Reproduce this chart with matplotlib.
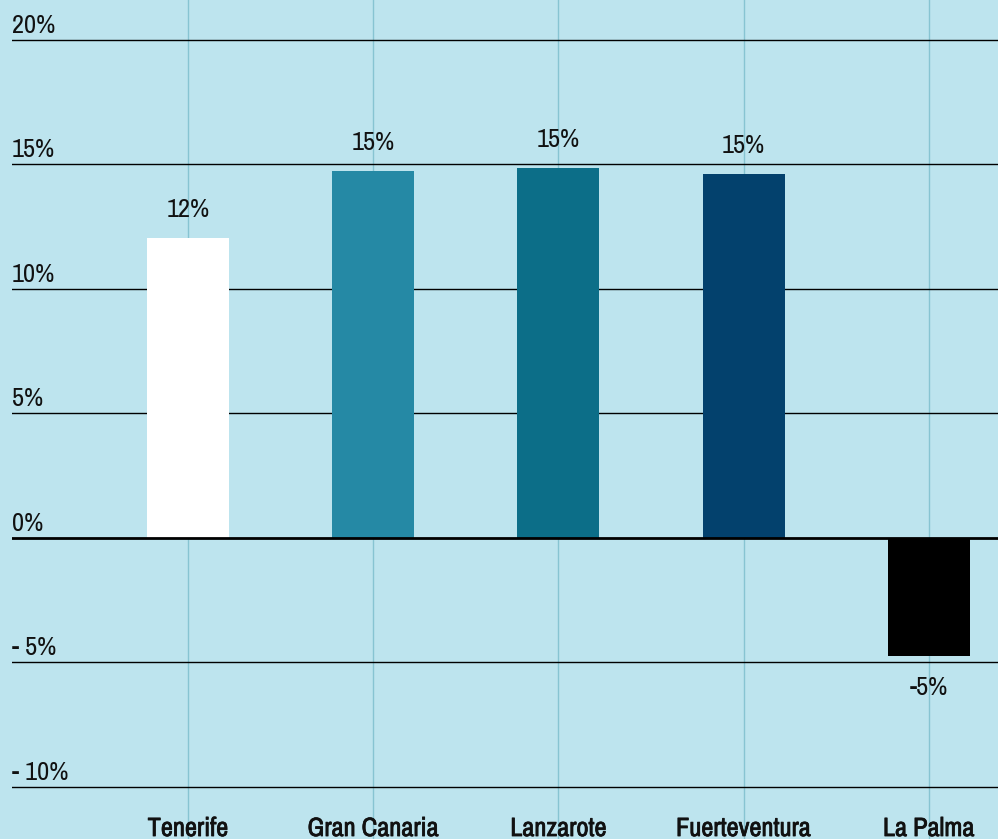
"""Bar chart: change by island, on a light blue panel."""

import matplotlib

matplotlib.use("Agg")

import matplotlib.pyplot as plt
from matplotlib import font_manager, patheffects
from matplotlib.transforms import blended_transform_factory

ISLANDS = ["Tenerife", "Gran Canaria", "Lanzarote", "Fuerteventura", "La Palma"]
CHANGE = [12.05, 14.75, 14.85, 14.6, -4.75]
BAR_LABELS = ["12%", "15%", "15%", "15%", "-5%"]
BAR_COLORS = ["#ffffff", "#2589a5", "#0c6e88", "#03416d", "#000000"]
Y_TICKS = [20, 15, 10, 5, 0, -5, -10]
Y_TICK_LABELS = ["20%", "15%", "10%", "5%", "0%", "- 5%", "- 10%"]

BG = "#bde4ee"
GRID_V = "#87c4d2"
INK = "#111111"
FS = 19

# the original uses a condensed grotesque, take a narrow face if one is there
fonts = font_manager.fontManager.ttflist
narrow = [f.name for f in fonts if "Narrow" in f.name or "Condensed" in f.name]
family = narrow[0] if narrow else "DejaVu Sans"
plt.rcParams["font.family"] = [family, "DejaVu Sans"]

fig = plt.figure(figsize=(9.98, 8.39), dpi=100, facecolor=BG)
ax = fig.add_axes([12 / 998, 0, 986 / 998, 1])
ax.set_facecolor(BG)

x = list(range(len(ISLANDS)))
ax.set_xlim(-0.95, 4.374)
ax.set_ylim(-12.09, 21.6)

for xi in x:
    ax.axvline(xi, color=GRID_V, linewidth=1.0, zorder=0)
for yt in Y_TICKS:
    ax.axhline(yt, color="#000000", linewidth=2.0 if yt == 0 else 1.0, zorder=3 if yt == 0 else 1)

ax.bar(x, CHANGE, width=0.443, color=BAR_COLORS, zorder=2)

for xi, val, lab in zip(x, CHANGE, BAR_LABELS):
    offset = 15 if val >= 0 else -28
    ax.annotate(lab, (xi, val), xytext=(0, offset), textcoords="offset points",
                ha="center", va="baseline", fontsize=FS, color=INK)

trans = blended_transform_factory(ax.transAxes, ax.transData)
for yt, lab in zip(Y_TICKS, Y_TICK_LABELS):
    ax.annotate(lab, (0, yt), xycoords=trans, xytext=(0, 5), textcoords="offset points",
                ha="left", va="baseline", fontsize=FS, color=INK)

# no bold face in the narrow family, thicken the island names a little
medium = [patheffects.withStroke(linewidth=0.55, foreground=INK)]
for xi, name in zip(x, ISLANDS):
    ax.text(xi, -11.97, name, ha="center", va="baseline", fontsize=FS,
            color=INK, path_effects=medium)

ax.set_xticks([])
ax.set_yticks([])
for spine in ax.spines.values():
    spine.set_visible(False)

fig.savefig("out.png", dpi=100, facecolor=BG)
